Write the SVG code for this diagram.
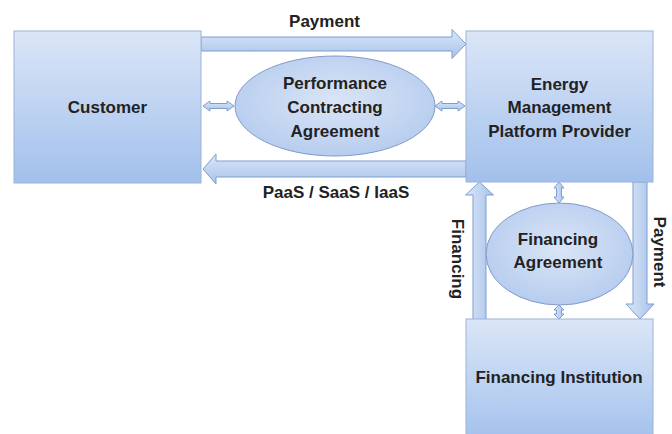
<svg xmlns="http://www.w3.org/2000/svg" width="672" height="434" viewBox="0 0 672 434">
<defs>
<linearGradient id="gBox" x1="0" y1="0" x2="0" y2="1">
<stop offset="0" stop-color="#dbe6f7"/>
<stop offset="1" stop-color="#a2c0ec"/>
</linearGradient>
<radialGradient id="gEll" cx="0.5" cy="0.45" r="0.6">
<stop offset="0" stop-color="#dae5f6"/>
<stop offset="1" stop-color="#b4cbee"/>
</radialGradient>
<linearGradient id="gArrH" x1="0" y1="0" x2="0" y2="1">
<stop offset="0" stop-color="#dbe6f7"/>
<stop offset="1" stop-color="#a8c3ec"/>
</linearGradient>
<linearGradient id="gArrV" x1="0" y1="0" x2="1" y2="0">
<stop offset="0" stop-color="#dbe6f7"/>
<stop offset="1" stop-color="#a8c3ec"/>
</linearGradient>
</defs>
<style>
.box{fill:url(#gBox);stroke:#9cb3d6;stroke-width:1}
.ell{fill:url(#gEll);stroke:#7f9bc8;stroke-width:1}
.arrh{fill:url(#gArrH);stroke:#7d9dcf;stroke-width:1;stroke-linejoin:miter}
.arrv{fill:url(#gArrV);stroke:#7d9dcf;stroke-width:1;stroke-linejoin:miter}
text{font-family:"Liberation Sans",Arial,sans-serif;font-weight:bold;font-size:17px;fill:#222;text-anchor:middle}
</style>
<rect width="672" height="434" fill="#ffffff"/>

<g id="connectors">
<polygon class="arrh" points="201,37 452,37 452,29.5 466,44 452,58.5 452,51 201,51"/>
<polygon class="arrh" points="466,161 216,161 216,154 203,169 216,184 216,177 466,177"/>
<polygon class="arrv" points="473,320 473,195 465.5,195 479.5,182 493.5,195 486,195 486,320"/>
<polygon class="arrv" points="633,182 647,182 647,304 654,304 640,319 626,304 633,304"/>
<polygon class="arrh" points="203,106 210,101 210,103.5 227,103.5 227,101 234,106 227,111 227,108.5 210,108.5 210,111"/>
<polygon class="arrh" points="435,106 442,101 442,103.5 458,103.5 458,101 465,106 458,111 458,108.5 442,108.5 442,111"/>
<polygon class="arrv" points="559,182 564,188 561.5,188 561.5,197 564,197 559,203 554,197 556.5,197 556.5,188 554,188"/>
<polygon class="arrv" points="559,305 564,310 561.5,310 561.5,314 564,314 559,319 554,314 556.5,314 556.5,310 554,310"/>
<text x="324.5" y="27">Payment</text>
<text x="336" y="198">PaaS / SaaS / IaaS</text>
<text transform="translate(452,259) rotate(90)">Financing</text>
<text transform="translate(654,252) rotate(90)">Payment</text>
</g>

<g id="customer">
<rect class="box" x="14" y="31" width="187" height="152"/>
<text x="107.5" y="113">Customer</text>
</g>

<g id="energy-provider">
<rect class="box" x="466" y="31" width="187" height="151"/>
<text x="559.5" y="90">Energy</text>
<text x="559.5" y="113">Management</text>
<text x="559.5" y="137">Platform Provider</text>
</g>

<g id="financing-institution">
<rect class="box" x="466" y="319" width="187" height="125"/>
<text x="559" y="383">Financing Institution</text>
</g>

<g id="performance-agreement">
<ellipse class="ell" cx="335" cy="106" rx="100" ry="50"/>
<text x="335" y="89">Performance</text>
<text x="335" y="113">Contracting</text>
<text x="335" y="137">Agreement</text>
</g>

<g id="financing-agreement">
<ellipse class="ell" cx="559.5" cy="254" rx="73.5" ry="51"/>
<text x="558" y="245">Financing</text>
<text x="558" y="268">Agreement</text>
</g>
</svg>
